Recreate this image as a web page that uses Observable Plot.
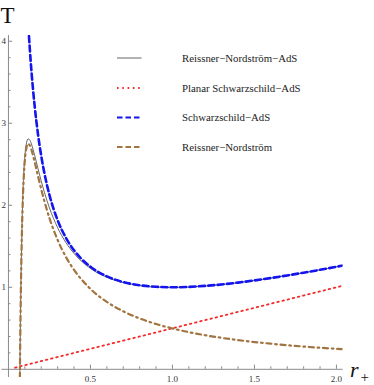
<!DOCTYPE html>
<html>
<head>
<meta charset="utf-8">
<script src="https://cdn.jsdelivr.net/npm/d3@7"></script>
<script src="https://cdn.jsdelivr.net/npm/@observablehq/plot@0.6"></script>
<style>
  html, body { margin: 0; padding: 0; background: #fff; }
  #chart { position: relative; width: 374px; height: 385px; }
</style>
</head>
<body>
<div id="chart"></div>
<script>
// ---- data ----
const rRN = [0.0695, 0.07, 0.072, 0.075, 0.078, 0.08, 0.085, 0.09, 0.095, 0.1, 0.11, 0.12, 0.13, 0.14, 0.15, 0.16, 0.18, 0.2, 0.22, 0.25, 0.3, 0.35, 0.4, 0.5, 0.6, 0.7, 0.8, 0.9, 1.0, 1.2, 1.4, 1.6, 1.8, 2.04];
const tRNAdS = [-0.069, 0.035, 0.416, 0.897, 1.287, 1.505, 1.936, 2.240, 2.454, 2.600, 2.760, 2.809, 2.796, 2.749, 2.682, 2.607, 2.448, 2.294, 2.153, 1.968, 1.726, 1.546, 1.412, 1.230, 1.122, 1.057, 1.020, 1.002, 0.998, 1.015, 1.056, 1.112, 1.177, 1.265];
const tRN = [-0.104, 0.0, 0.380, 0.859, 1.248, 1.465, 1.893, 2.195, 2.406, 2.550, 2.705, 2.749, 2.731, 2.679, 2.607, 2.527, 2.358, 2.194, 2.043, 1.843, 1.576, 1.371, 1.212, 0.980, 0.822, 0.707, 0.620, 0.552, 0.498, 0.415, 0.356, 0.312, 0.277, 0.245];
const rSAdS = [0.125, 0.13, 0.14, 0.15, 0.16, 0.18, 0.2, 0.22, 0.25, 0.3, 0.35, 0.4, 0.45, 0.5, 0.6, 0.7, 0.8, 0.9, 1.0, 1.2, 1.4, 1.6, 1.8, 2.04];
const tSAdS = [4.063, 3.911, 3.641, 3.408, 3.205, 2.868, 2.600, 2.383, 2.125, 1.817, 1.604, 1.450, 1.336, 1.250, 1.133, 1.064, 1.025, 1.006, 1.000, 1.017, 1.057, 1.113, 1.178, 1.265];
const rPlanar = [0.04, 1.0, 2.04];
const tPlanar = [0.02, 0.5, 1.02];

const seriesNames = ["Reissner\u2212Nordstr\u00f6m\u2212AdS", "Planar Schwarzschild\u2212AdS", "Schwarzschild\u2212AdS", "Reissner\u2212Nordstr\u00f6m"];

const xMajor = [0.5, 1.0, 1.5, 2.0];
const xMinor = [0.1, 0.2, 0.3, 0.4, 0.6, 0.7, 0.8, 0.9, 1.1, 1.2, 1.3, 1.4, 1.6, 1.7, 1.8, 1.9];
const yMajor = [1, 2, 3, 4];
const yMinor = [0.2, 0.4, 0.6, 0.8, 1.2, 1.4, 1.6, 1.8, 2.2, 2.4, 2.6, 2.8, 3.2, 3.4, 3.6, 3.8];
const xLabels = ["0.5", "1.0", "1.5", "2.0"];
const yLabels = ["1", "2", "3", "4"];

// ---- styles ----
const serif = "'Liberation Serif', 'DejaVu Serif', serif";
const styles = [
  {stroke: "#555", strokeWidth: 0.9, dash: null},
  {stroke: "#f42a2a", strokeWidth: 1.8, dash: "1.6,3.7"},
  {stroke: "#1414ee", strokeWidth: 2.6, dash: "6,3.4"},
  {stroke: "#a2743f", strokeWidth: 2.2, dash: "5,3.8,1.6,3.8"}
];
const legendDash = [null, "1.6,3.7", "5.5,3", "5.5,3"];

const W = 374, H = 385;
const mL = 1.4, mR = 31.5, mT = 35, mB = 8;
const xDom = [-0.04, 2.04], yDom = [-0.1, 4.07];
const pxX = (W - mL - mR) / (xDom[1] - xDom[0]);
const pxY = (H - mT - mB) / (yDom[1] - yDom[0]);
const majLen = 4.2, minLen = 2.5;

const zip = (xs, ys) => xs.map((x, i) => ({r: x, t: ys[i]}));
const axisColor = "#8a8a8a";

const lineMark = (data, s) => Plot.line(data, {
  x: "r", y: "t", stroke: s.stroke, strokeWidth: s.strokeWidth,
  strokeDasharray: s.dash || undefined, curve: "monotone-x", clip: true
});

const svg = Plot.plot({
  width: W, height: H,
  marginLeft: mL, marginRight: mR, marginTop: mT, marginBottom: mB,
  x: {domain: xDom, axis: null},
  y: {domain: yDom, axis: null},
  style: {background: "#fff", overflow: "visible"},
  marks: [
    Plot.ruleY([0], {stroke: axisColor, strokeWidth: 1}),
    Plot.ruleX([0], {stroke: axisColor, strokeWidth: 1}),
    Plot.ruleX(xMajor, {x: d => d, y1: 0, y2: majLen / pxY, stroke: axisColor}),
    Plot.ruleX(xMinor, {x: d => d, y1: 0, y2: minLen / pxY, stroke: axisColor}),
    Plot.ruleY(yMajor, {y: d => d, x1: 0, x2: majLen / pxX, stroke: axisColor}),
    Plot.ruleY(yMinor, {y: d => d, x1: 0, x2: minLen / pxX, stroke: axisColor}),
    Plot.text(xMajor, {x: d => d, y: 0, dy: 9.5, text: (d, i) => xLabels[i], fontSize: 9, fontFamily: serif, fill: "#333"}),
    Plot.text(yMajor, {x: 0, y: d => d, dx: -2.5, textAnchor: "end", text: (d, i) => yLabels[i], fontSize: 9, fontFamily: serif, fill: "#333"}),
    lineMark(zip(rRN, tRNAdS), styles[0]),
    lineMark(zip(rPlanar, tPlanar), styles[1]),
    lineMark(zip(rSAdS, tSAdS), styles[2]),
    lineMark(zip(rRN, tRN), styles[3])
  ]
});

const s = d3.select(svg);
// axis labels
s.append("text").attr("x", 7.5).attr("y", 22.5).attr("text-anchor", "middle")
  .attr("font-family", serif).attr("font-size", 23).attr("fill", "#111").text("T");
const rl = s.append("text").attr("x", 350).attr("y", 377).attr("text-anchor", "start")
  .attr("font-family", serif).attr("fill", "#111");
rl.append("tspan").attr("font-size", 22).attr("font-style", "italic").text("r");
rl.append("tspan").attr("font-size", 15).attr("dy", 5).attr("dx", 2).text("+");

// legend
const legendY = [58, 88, 117.5, 147];
seriesNames.forEach((name, i) => {
  const st = styles[i];
  s.append("line").attr("x1", 117).attr("x2", 141.5).attr("y1", legendY[i]).attr("y2", legendY[i])
    .attr("stroke", st.stroke).attr("stroke-width", i === 0 ? 0.9 : (i === 1 ? 1.8 : 2.2))
    .attr("stroke-dasharray", legendDash[i]);
  s.append("text").attr("x", 182).attr("y", legendY[i] + 3.5).attr("text-anchor", "start")
    .attr("font-family", serif).attr("font-size", 10.8).attr("fill", "#222").text(name);
});

document.getElementById("chart").appendChild(svg);
</script>
</body>
</html>
